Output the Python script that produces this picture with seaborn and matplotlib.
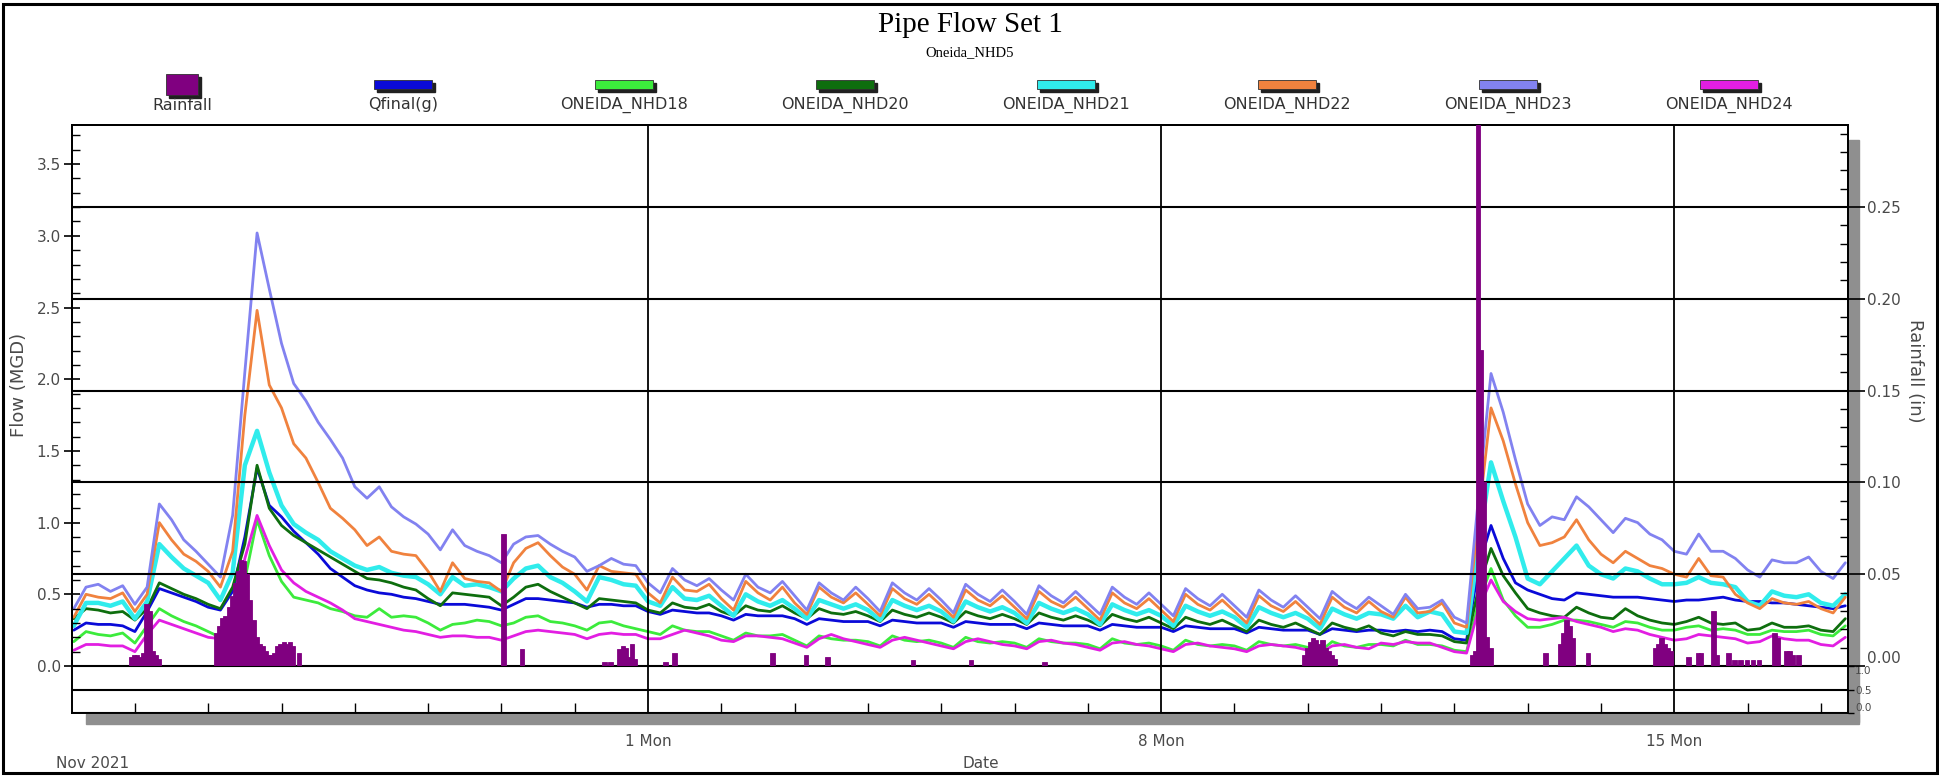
import matplotlib
matplotlib.use("Agg")
import matplotlib.pyplot as plt
import matplotlib.dates as mdates
import matplotlib.ticker as mticker
from matplotlib.patches import Rectangle
import numpy as np
import pandas as pd
import seaborn as sns

# ---------------- data (4-hourly samples, Oct 24 04:00 -> Nov 17 08:00) ----------------
time_start = "2021-10-24 04:00"
time_end = "2021-11-17 08:00"
time_step = "4h"

qfinal = [
    0.25, 0.30, 0.29, 0.29, 0.28,
    0.24, 0.38, 0.54, 0.51, 0.48, 0.45,
    0.41, 0.39, 0.52, 0.90, 1.38, 1.12,
    1.04, 0.94, 0.86, 0.78, 0.68, 0.62,
    0.56, 0.53, 0.51, 0.50, 0.48, 0.47,
    0.45, 0.43, 0.43, 0.43, 0.42, 0.41,
    0.39, 0.43, 0.47, 0.47, 0.46, 0.45,
    0.44, 0.41, 0.43, 0.43, 0.42, 0.42,
    0.38, 0.36, 0.39, 0.38, 0.37, 0.37,
    0.35, 0.32, 0.36, 0.35, 0.35, 0.35,
    0.33, 0.29, 0.33, 0.32, 0.31, 0.31,
    0.31, 0.28, 0.32, 0.31, 0.30, 0.30,
    0.30, 0.27, 0.31, 0.30, 0.29, 0.29,
    0.29, 0.26, 0.30, 0.29, 0.28, 0.28,
    0.28, 0.25, 0.29, 0.28, 0.27, 0.27,
    0.27, 0.24, 0.28, 0.27, 0.26, 0.26,
    0.26, 0.23, 0.27, 0.26, 0.25, 0.25,
    0.25, 0.22, 0.26, 0.25, 0.24, 0.25,
    0.25, 0.24, 0.25, 0.24, 0.25, 0.24,
    0.19, 0.18, 0.70, 0.98, 0.75, 0.58,
    0.53, 0.50, 0.47, 0.46, 0.51, 0.50,
    0.49, 0.48, 0.48, 0.48, 0.47, 0.46,
    0.45, 0.46, 0.46, 0.47, 0.48, 0.46,
    0.45, 0.45, 0.44, 0.44, 0.43, 0.42,
    0.41, 0.40, 0.42,
]
nhd18 = [
    0.17, 0.24, 0.22, 0.21, 0.23,
    0.16, 0.28, 0.40, 0.35, 0.31, 0.28,
    0.24, 0.20, 0.30, 0.60, 1.02, 0.77,
    0.59, 0.48, 0.46, 0.44, 0.40, 0.38,
    0.35, 0.34, 0.40, 0.34, 0.35, 0.34,
    0.30, 0.25, 0.29, 0.30, 0.32, 0.31,
    0.28, 0.30, 0.34, 0.35, 0.31, 0.30,
    0.28, 0.25, 0.30, 0.31, 0.28, 0.26,
    0.24, 0.22, 0.28, 0.25, 0.24, 0.24,
    0.21, 0.18, 0.23, 0.21, 0.21, 0.22,
    0.18, 0.14, 0.21, 0.19, 0.18, 0.18,
    0.17, 0.14, 0.21, 0.18, 0.17, 0.18,
    0.16, 0.13, 0.20, 0.17, 0.16, 0.17,
    0.16, 0.13, 0.19, 0.17, 0.16, 0.16,
    0.15, 0.12, 0.19, 0.16, 0.15, 0.16,
    0.14, 0.11, 0.18, 0.15, 0.14, 0.15,
    0.14, 0.11, 0.17, 0.15, 0.14, 0.15,
    0.13, 0.10, 0.17, 0.14, 0.13, 0.15,
    0.15, 0.14, 0.18, 0.15, 0.15, 0.14,
    0.11, 0.10, 0.45, 0.68, 0.46, 0.35,
    0.27, 0.27, 0.29, 0.32, 0.32, 0.31,
    0.29, 0.27, 0.31, 0.30, 0.27, 0.25,
    0.25, 0.27, 0.28, 0.25, 0.26, 0.25,
    0.22, 0.22, 0.25, 0.24, 0.24, 0.25,
    0.22, 0.21, 0.28,
]
nhd20 = [
    0.33, 0.40, 0.39, 0.37, 0.38,
    0.32, 0.40, 0.58, 0.54, 0.50, 0.47,
    0.43, 0.40, 0.55, 0.85, 1.40, 1.10,
    0.98, 0.91, 0.86, 0.81, 0.76, 0.71,
    0.66, 0.61, 0.60, 0.58, 0.55, 0.53,
    0.47, 0.42, 0.51, 0.50, 0.49, 0.48,
    0.42, 0.48, 0.55, 0.57, 0.52, 0.48,
    0.44, 0.40, 0.47, 0.46, 0.45, 0.44,
    0.39, 0.37, 0.44, 0.41, 0.40, 0.43,
    0.38, 0.35, 0.42, 0.39, 0.38, 0.42,
    0.37, 0.33, 0.40, 0.37, 0.36, 0.38,
    0.35, 0.31, 0.39, 0.36, 0.34, 0.37,
    0.34, 0.30, 0.38, 0.35, 0.33, 0.36,
    0.33, 0.29, 0.37, 0.34, 0.32, 0.35,
    0.32, 0.28, 0.36, 0.33, 0.31, 0.34,
    0.30, 0.26, 0.34, 0.31, 0.29, 0.32,
    0.28, 0.24, 0.32, 0.29, 0.27, 0.30,
    0.26, 0.22, 0.30, 0.27, 0.25, 0.28,
    0.23, 0.21, 0.24, 0.22, 0.22, 0.21,
    0.17, 0.16, 0.55, 0.82, 0.63, 0.51,
    0.40, 0.37, 0.35, 0.34, 0.41, 0.37,
    0.34, 0.33, 0.40, 0.35, 0.32, 0.30,
    0.29, 0.31, 0.34, 0.30, 0.29, 0.30,
    0.25, 0.26, 0.30, 0.27, 0.27, 0.28,
    0.25, 0.24, 0.33,
]
nhd21 = [
    0.28, 0.44, 0.44, 0.42, 0.45,
    0.33, 0.45, 0.85, 0.76, 0.68, 0.63,
    0.58, 0.46, 0.65, 1.40, 1.64, 1.35,
    1.12, 0.99, 0.93, 0.88, 0.80, 0.75,
    0.70, 0.67, 0.69, 0.65, 0.63, 0.62,
    0.57, 0.50, 0.62, 0.56, 0.57, 0.55,
    0.52, 0.61, 0.68, 0.70, 0.62, 0.58,
    0.52, 0.45, 0.62, 0.60, 0.57, 0.56,
    0.45, 0.42, 0.55, 0.47, 0.46, 0.49,
    0.42, 0.35, 0.50, 0.45, 0.42, 0.46,
    0.40, 0.33, 0.46, 0.43, 0.40, 0.43,
    0.39, 0.32, 0.46, 0.42, 0.39, 0.42,
    0.38, 0.31, 0.45, 0.41, 0.38, 0.41,
    0.37, 0.30, 0.44, 0.40, 0.37, 0.40,
    0.36, 0.29, 0.43, 0.39, 0.36, 0.39,
    0.35, 0.28, 0.42, 0.38, 0.35, 0.38,
    0.34, 0.27, 0.41, 0.37, 0.34, 0.37,
    0.33, 0.26, 0.40, 0.36, 0.33, 0.37,
    0.36, 0.33, 0.42, 0.34, 0.38, 0.36,
    0.24, 0.23, 0.85, 1.42, 1.15, 0.90,
    0.61, 0.57, 0.66, 0.75, 0.84, 0.70,
    0.64, 0.61, 0.68, 0.66, 0.61, 0.57,
    0.57, 0.58, 0.62, 0.58, 0.57, 0.55,
    0.45, 0.42, 0.52, 0.49, 0.48, 0.50,
    0.44, 0.42, 0.50,
]
nhd22 = [
    0.34, 0.50, 0.48, 0.47, 0.51,
    0.38, 0.50, 1.00, 0.88, 0.78, 0.73,
    0.66, 0.55, 0.80, 1.75, 2.48, 1.96,
    1.80, 1.55, 1.45, 1.28, 1.10, 1.03,
    0.95, 0.84, 0.90, 0.80, 0.78, 0.77,
    0.66, 0.52, 0.72, 0.61, 0.59, 0.58,
    0.52, 0.72, 0.82, 0.86, 0.77, 0.69,
    0.64, 0.53, 0.70, 0.66, 0.65, 0.64,
    0.51, 0.44, 0.62, 0.53, 0.52, 0.57,
    0.47, 0.39, 0.59, 0.51, 0.46, 0.55,
    0.44, 0.36, 0.55, 0.48, 0.44, 0.51,
    0.43, 0.35, 0.54, 0.47, 0.43, 0.50,
    0.42, 0.34, 0.53, 0.46, 0.42, 0.49,
    0.41, 0.33, 0.52, 0.45, 0.41, 0.48,
    0.40, 0.32, 0.51, 0.44, 0.40, 0.47,
    0.39, 0.31, 0.50, 0.43, 0.39, 0.46,
    0.38, 0.30, 0.49, 0.42, 0.38, 0.45,
    0.37, 0.29, 0.48, 0.41, 0.37, 0.45,
    0.38, 0.34, 0.48, 0.37, 0.38, 0.44,
    0.30, 0.27, 1.05, 1.80, 1.57, 1.27,
    1.00, 0.84, 0.86, 0.90, 1.02, 0.88,
    0.78, 0.72, 0.80, 0.75, 0.70, 0.68,
    0.64, 0.62, 0.75, 0.63, 0.62, 0.50,
    0.44, 0.40, 0.47, 0.44, 0.43, 0.45,
    0.40, 0.37, 0.48,
]
nhd23 = [
    0.40, 0.55, 0.57, 0.52, 0.56,
    0.43, 0.55, 1.13, 1.02, 0.88, 0.80,
    0.71, 0.62, 1.05, 2.05, 3.02, 2.63,
    2.25, 1.97, 1.85, 1.70, 1.58, 1.45,
    1.25, 1.17, 1.25, 1.11, 1.04, 0.99,
    0.92, 0.81, 0.95, 0.84, 0.80, 0.77,
    0.72, 0.85, 0.90, 0.91, 0.85, 0.80,
    0.76, 0.66, 0.70, 0.75, 0.71, 0.70,
    0.58, 0.51, 0.68, 0.60, 0.56, 0.61,
    0.53, 0.46, 0.64, 0.55, 0.51, 0.59,
    0.49, 0.39, 0.58, 0.51, 0.46, 0.55,
    0.47, 0.38, 0.58, 0.51, 0.46, 0.54,
    0.46, 0.37, 0.57, 0.50, 0.45, 0.53,
    0.45, 0.36, 0.56, 0.49, 0.44, 0.52,
    0.44, 0.36, 0.55, 0.48, 0.43, 0.51,
    0.43, 0.35, 0.54, 0.47, 0.42, 0.50,
    0.42, 0.34, 0.53, 0.46, 0.41, 0.49,
    0.41, 0.33, 0.52, 0.45, 0.40, 0.48,
    0.42, 0.36, 0.50, 0.40, 0.41, 0.46,
    0.34, 0.30, 1.20, 2.04, 1.77, 1.44,
    1.13, 0.98, 1.04, 1.02, 1.18, 1.11,
    1.02, 0.93, 1.03, 1.00, 0.92, 0.88,
    0.80, 0.78, 0.92, 0.80, 0.80, 0.75,
    0.67, 0.62, 0.74, 0.72, 0.72, 0.76,
    0.66, 0.61, 0.72,
]
nhd24 = [
    0.11, 0.15, 0.15, 0.14, 0.14,
    0.10, 0.22, 0.32, 0.29, 0.26, 0.23,
    0.20, 0.19, 0.28, 0.75, 1.05, 0.84,
    0.67, 0.58, 0.52, 0.48, 0.44, 0.39,
    0.33, 0.31, 0.29, 0.27, 0.25, 0.24,
    0.22, 0.20, 0.21, 0.21, 0.20, 0.20,
    0.18, 0.21, 0.24, 0.25, 0.24, 0.23,
    0.22, 0.19, 0.22, 0.23, 0.22, 0.22,
    0.19, 0.19, 0.22, 0.25, 0.23, 0.21,
    0.18, 0.17, 0.21, 0.21, 0.20, 0.19,
    0.16, 0.13, 0.19, 0.22, 0.19, 0.17,
    0.15, 0.13, 0.18, 0.20, 0.18, 0.16,
    0.14, 0.12, 0.17, 0.19, 0.17, 0.15,
    0.14, 0.12, 0.17, 0.18, 0.16, 0.15,
    0.13, 0.11, 0.16, 0.17, 0.15, 0.14,
    0.12, 0.10, 0.15, 0.16, 0.14, 0.13,
    0.12, 0.10, 0.14, 0.15, 0.14, 0.13,
    0.11, 0.09, 0.14, 0.15, 0.13, 0.12,
    0.16, 0.15, 0.17, 0.16, 0.16, 0.13,
    0.10, 0.09, 0.40, 0.60, 0.45, 0.38,
    0.33, 0.32, 0.33, 0.34, 0.31, 0.29,
    0.27, 0.24, 0.26, 0.25, 0.22, 0.20,
    0.18, 0.19, 0.22, 0.21, 0.20, 0.19,
    0.16, 0.17, 0.21, 0.19, 0.18, 0.18,
    0.15, 0.14, 0.20,
]

# hourly rainfall (in), only non-zero hours
rain_times = [
    "2021-10-24 22:00", "2021-10-24 23:00", "2021-10-25 00:00", "2021-10-25 01:00",
    "2021-10-25 02:00", "2021-10-25 03:00", "2021-10-25 04:00", "2021-10-25 05:00",
    "2021-10-25 06:00", "2021-10-25 07:00",
    "2021-10-26 02:00", "2021-10-26 03:00", "2021-10-26 04:00", "2021-10-26 05:00",
    "2021-10-26 06:00", "2021-10-26 07:00", "2021-10-26 08:00", "2021-10-26 09:00",
    "2021-10-26 10:00", "2021-10-26 11:00", "2021-10-26 12:00", "2021-10-26 13:00",
    "2021-10-26 14:00", "2021-10-26 15:00", "2021-10-26 16:00", "2021-10-26 17:00",
    "2021-10-26 18:00", "2021-10-26 19:00", "2021-10-26 20:00", "2021-10-26 21:00",
    "2021-10-26 22:00", "2021-10-26 23:00", "2021-10-27 00:00", "2021-10-27 01:00",
    "2021-10-27 02:00", "2021-10-27 03:00", "2021-10-27 05:00",
    "2021-10-30 00:00", "2021-10-30 06:00",
    "2021-10-31 09:00", "2021-10-31 11:00", "2021-10-31 14:00", "2021-10-31 15:00",
    "2021-10-31 16:00", "2021-10-31 17:00", "2021-10-31 18:00", "2021-10-31 19:00",
    "2021-11-01 05:00", "2021-11-01 08:00", "2021-11-02 16:00", "2021-11-03 03:00",
    "2021-11-03 10:00", "2021-11-04 14:00", "2021-11-05 09:00", "2021-11-06 09:00",
    "2021-11-09 22:00", "2021-11-09 23:00", "2021-11-10 00:00", "2021-11-10 01:00",
    "2021-11-10 02:00", "2021-11-10 03:00", "2021-11-10 04:00", "2021-11-10 05:00",
    "2021-11-10 06:00", "2021-11-10 07:00", "2021-11-10 08:00",
    "2021-11-12 05:00", "2021-11-12 06:00", "2021-11-12 07:00", "2021-11-12 08:00",
    "2021-11-12 09:00", "2021-11-12 10:00", "2021-11-12 11:00",
    "2021-11-13 05:00", "2021-11-13 10:00", "2021-11-13 11:00", "2021-11-13 12:00",
    "2021-11-13 13:00", "2021-11-13 14:00", "2021-11-13 19:00",
    "2021-11-14 17:00", "2021-11-14 18:00", "2021-11-14 19:00", "2021-11-14 20:00",
    "2021-11-14 21:00", "2021-11-14 22:00",
    "2021-11-15 04:00", "2021-11-15 07:00", "2021-11-15 08:00", "2021-11-15 12:00",
    "2021-11-15 13:00", "2021-11-15 17:00", "2021-11-15 19:00", "2021-11-15 21:00",
    "2021-11-15 23:00", "2021-11-16 01:00", "2021-11-16 03:00", "2021-11-16 08:00",
    "2021-11-16 09:00", "2021-11-16 12:00", "2021-11-16 13:00", "2021-11-16 14:00",
    "2021-11-16 16:00",
]
rain_values = [
    0.005, 0.006, 0.006, 0.005,
    0.007, 0.034, 0.030, 0.008,
    0.006, 0.004,
    0.018, 0.022, 0.026, 0.027,
    0.032, 0.038, 0.045, 0.052,
    0.058, 0.057, 0.050, 0.036,
    0.025, 0.016, 0.012, 0.011,
    0.008, 0.006, 0.006, 0.007,
    0.011, 0.012, 0.013, 0.012,
    0.013, 0.011, 0.007,
    0.072, 0.009,
    0.002, 0.002, 0.009, 0.011,
    0.010, 0.005, 0.012, 0.004,
    0.002, 0.007, 0.007, 0.006,
    0.005, 0.003, 0.003, 0.002,
    0.006, 0.010, 0.013, 0.015,
    0.014, 0.012, 0.014, 0.010,
    0.008, 0.006, 0.004,
    0.006, 0.008, 0.310, 0.172,
    0.100, 0.016, 0.010,
    0.007, 0.012, 0.018, 0.025,
    0.022, 0.015, 0.007,
    0.010, 0.012, 0.015, 0.012,
    0.010, 0.008,
    0.005, 0.007, 0.007, 0.030,
    0.006, 0.007, 0.003, 0.003,
    0.003, 0.003, 0.003, 0.018,
    0.015, 0.008, 0.008, 0.006,
    0.006,
]

series_labels = ["Qfinal(g)", "ONEIDA_NHD18", "ONEIDA_NHD20", "ONEIDA_NHD21",
                 "ONEIDA_NHD22", "ONEIDA_NHD23", "ONEIDA_NHD24"]
series_values = [qfinal, nhd18, nhd20, nhd21, nhd22, nhd23, nhd24]
series_colors = ["#0A0AD8", "#3CEB3C", "#0E6E0E", "#30ECEC", "#F0823E", "#8282F0", "#E21EE2"]
series_widths = [2.0, 2.0, 2.0, 3.2, 2.0, 2.0, 2.0]
rain_label = "Rainfall"
rain_color = "#800080"

# ---------------- style ----------------
sns.set_theme(style="white")
plt.rcParams["font.family"] = ["DejaVu Sans"]
GREY = "#4a4a4a"

W, H = 1940, 776
fig = plt.figure(figsize=(W / 100, H / 100), dpi=100)


def fx(x):
    return x / W


def fy(y):
    return 1 - y / H


L, R, T, B0, B1 = 72, 1848, 125, 666, 713
ax = fig.add_axes([fx(L), fy(B0), fx(R) - fx(L), fy(T) - fy(B0)])
axb = fig.add_axes([fx(L), fy(B1), fx(R) - fx(L), fy(B0) - fy(B1)], sharex=ax)
ax2 = ax.twinx()

times = pd.date_range(time_start, time_end, freq=time_step)
df = pd.concat([pd.DataFrame({"Date": times, "Flow": v, "Series": lab})
                for lab, v in zip(series_labels, series_values)], ignore_index=True)

for lab, col, lw in zip(series_labels, series_colors, series_widths):
    sns.lineplot(data=df[df["Series"] == lab], x="Date", y="Flow", color=col,
                 linewidth=lw, estimator=None, ax=ax, legend=False)

ax2.bar(pd.to_datetime(rain_times), rain_values, width=pd.Timedelta(minutes=90),
        color=rain_color, edgecolor=rain_color, align="edge", linewidth=0.6, zorder=3)

nov1 = pd.Timestamp("2021-11-01")
ax.set_xlim(nov1 - pd.Timedelta(days=7.858), nov1 + pd.Timedelta(days=16.37))
ax.set_ylim(0, 3.773)
ax2.set_ylim(0, 0.2947)
axb.set_ylim(0, 1)

# x ticks
ax.xaxis.set_major_locator(mdates.DayLocator(bymonthday=[1, 8, 15]))
ax.xaxis.set_minor_locator(mdates.DayLocator())
ax.xaxis.set_major_formatter(mticker.FuncFormatter(
    lambda x, pos: f"{mdates.num2date(x).day} {mdates.num2date(x):%a}"))
ax.tick_params(axis="x", which="both", length=0, labelbottom=False, bottom=False)
ax.set_xlabel("")
ax.grid(False)
ax.xaxis.grid(True, which="major", color="black", linewidth=1.3)
ax.set_axisbelow(False)

axb.tick_params(axis="x", which="minor", direction="in", length=7, width=1.0,
                bottom=True, top=False, color="black")
axb.tick_params(axis="x", which="major", length=0, pad=15, labelsize=11,
                labelcolor=GREY, bottom=True)
axb.xaxis.grid(True, which="major", color="black", linewidth=1.3)
axb.set_xlabel("")

# left flow axis
ax.set_yticks(np.arange(0, 3.51, 0.5))
ax.yaxis.set_major_formatter(mticker.FormatStrFormatter("%.1f"))
ax.yaxis.set_minor_locator(mticker.MultipleLocator(0.1))
ax.tick_params(axis="y", which="major", direction="inout", length=12, width=1.2,
               left=True, color="black", labelsize=11, labelcolor=GREY, pad=2)
ax.tick_params(axis="y", which="minor", direction="in", length=6, width=1.0,
               left=True, color="black")
ax.set_ylabel("Flow (MGD)", fontsize=13, color=GREY)
ax.yaxis.label.set_va("center")
ax.yaxis.label.set_ha("center")
ax.yaxis.set_label_coords((19 - L) / (R - L), (B0 - 385) / (B0 - T))

# right rain axis
ax2.set_yticks(np.arange(0, 0.251, 0.05))
ax2.yaxis.set_major_formatter(mticker.FormatStrFormatter("%.2f"))
ax2.yaxis.set_minor_locator(mticker.MultipleLocator(0.01))
ax2.tick_params(axis="y", which="major", direction="out", length=12, width=1.2,
                right=True, color="black", labelsize=11, labelcolor=GREY, pad=2)
ax2.tick_params(axis="y", which="minor", direction="in", length=6, width=1.0,
                right=True, color="black")
ax2.grid(False)
ax2.yaxis.grid(True, which="major", color="black", linewidth=1.5)
ax2.set_ylabel("Rainfall (in)", fontsize=13, color=GREY, rotation=270)
ax2.yaxis.label.set_va("center")
ax2.yaxis.label.set_ha("center")
ax2.yaxis.set_label_coords((1915 - L) / (R - L), (B0 - 371) / (B0 - T))

# bottom strip panel
axb.yaxis.tick_right()
axb.set_yticks([0, 0.5, 1.0])
axb.yaxis.set_major_formatter(mticker.FormatStrFormatter("%.1f"))
axb.tick_params(axis="y", which="major", direction="out", length=4, width=1.0,
                right=True, left=False, color="black", labelsize=7.5,
                labelcolor=GREY, pad=1)
axb.yaxis.grid(True, which="major", color="black", linewidth=1.5)
axb.set_ylabel("")

fig.canvas.draw()
# keep the crowded strip labels inside the strip and the 0.00 rain label just above its line
for t in ax2.get_yticklabels():
    if t.get_text() == "0.00":
        t.set_va("bottom")
for t in axb.get_yticklabels():
    if t.get_text() == "1.0":
        t.set_va("top")
    elif t.get_text() == "0.0":
        t.set_va("bottom")

for a in (ax, ax2, axb):
    for s in a.spines.values():
        s.set_visible(True)
        s.set_color("black")
        s.set_linewidth(1.4)

# drop shadows of the plot frame
fig.add_artist(Rectangle((fx(R + 1), fy(722)), fx(10), fy(140) - fy(722),
                         transform=fig.transFigure, color="#8f8f8f", zorder=-1))
fig.add_artist(Rectangle((fx(86), fy(724)), fx(R + 11 - 86), fy(714) - fy(724),
                         transform=fig.transFigure, color="#8f8f8f", zorder=-1))

# outer frame
fig.add_artist(Rectangle((fx(3), fy(773)), fx(1934), fy(4) - fy(773), fill=False,
                         edgecolor="black", linewidth=2.2, transform=fig.transFigure))

# titles
fig.text(0.5, fy(25), "Pipe Flow Set 1", ha="center", va="center", fontsize=21,
         family=["Liberation Serif", "DejaVu Serif"], color="black")
fig.text(0.5, fy(53), "Oneida_NHD5", ha="center", va="center", fontsize=10.5,
         family=["Liberation Serif", "DejaVu Serif"], color="black")

# legend row
legend_labels = [rain_label] + series_labels
legend_colors = [rain_color] + series_colors
for i, (lab, col) in enumerate(zip(legend_labels, legend_colors)):
    cx = 182 + i * 221
    if i == 0:
        w, h, top = 32, 21, 74
    else:
        w, h, top = 58, 9, 80
    fig.add_artist(Rectangle((fx(cx - w / 2 + 3), fy(top + h + 3)), fx(w), fy(top) - fy(top + h),
                             transform=fig.transFigure, color="#202020"))
    fig.add_artist(Rectangle((fx(cx - w / 2), fy(top + h)), fx(w), fy(top) - fy(top + h),
                             transform=fig.transFigure, facecolor=col, edgecolor="#303030",
                             linewidth=0.6))
    fig.text(fx(cx), fy(105), lab, ha="center", va="center", fontsize=11.5, color="#333333")

fig.text(fx(93), fy(763), "Nov 2021", ha="center", va="center", fontsize=11, color=GREY)
fig.text(fx(981), fy(763), "Date", ha="center", va="center", fontsize=11, color=GREY)

fig.savefig("out.png", dpi=100)
